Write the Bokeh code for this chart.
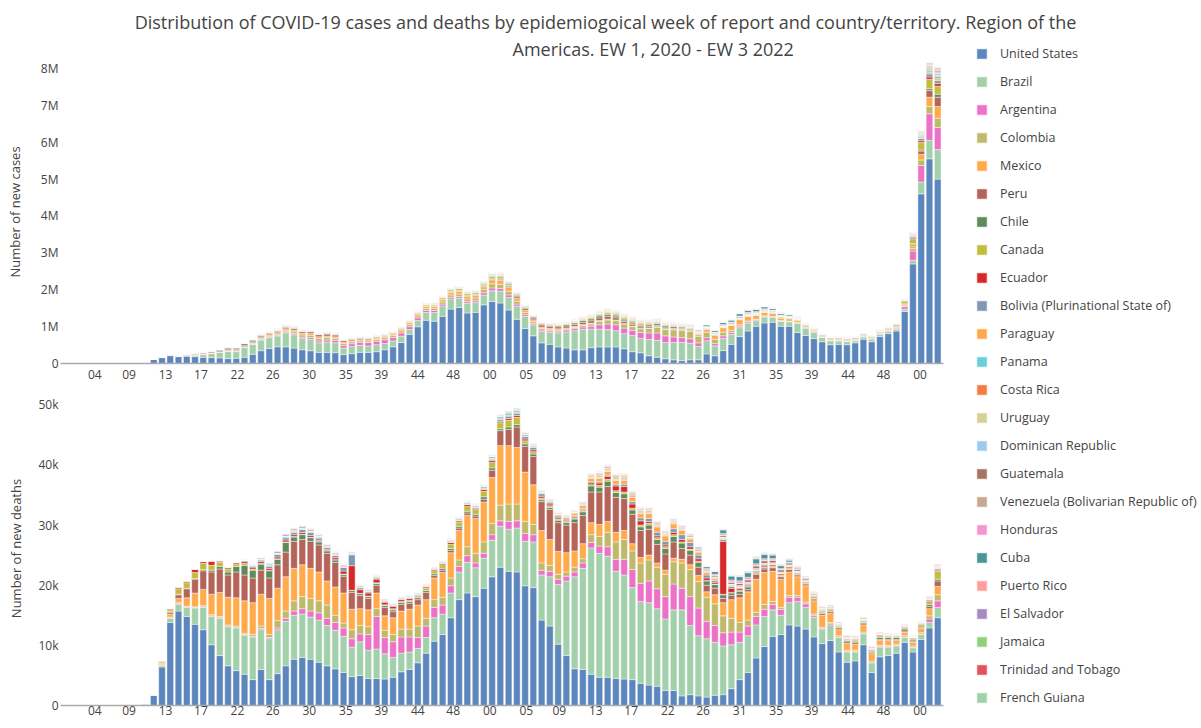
import datetime as dt
from bokeh.plotting import figure
from bokeh.models import ColumnDataSource, FixedTicker, Legend, LegendItem, Range1d, Title, Label
from bokeh.layouts import column, row
from bokeh.embed import file_html
from bokeh.resources import INLINE

N = 107  # weekly bars, week starting 2020-01-05 ... 2022-01-16
FIRST_WEEK = dt.date(2020, 1, 5)

COUNTRIES = ["United States", "Brazil", "Argentina", "Colombia", "Mexico", "Peru", "Chile", "Canada",
             "Ecuador", "Bolivia (Plurinational State of)", "Paraguay", "Panama", "Costa Rica", "Uruguay",
             "Dominican Republic", "Guatemala", "Venezuela (Bolivarian Republic of)", "Honduras", "Cuba",
             "Puerto Rico", "El Salvador", "Jamaica", "Trinidad and Tobago", "French Guiana"]
COLORS = ["#5b87bd", "#a2d0aa", "#ec72c8", "#bfba6b", "#ffab4c", "#b5645a", "#5e8a5c", "#c2bd3c",
          "#d62a2a", "#8198b4", "#ffa94d", "#6bcfd8", "#f47c45", "#d9cf9b", "#9ecbee", "#a37566",
          "#c4a995", "#f596cc", "#489695", "#ff9e9b", "#a48cbd", "#8fd17b", "#e2525a", "#a2d0aa"]

# ---------------- new cases (thousands) ----------------
US_C = [0]*9 + [2,35,110,160,213,187,196,187,169,160, 151,133,142,169,249,347,409,453,453,418, 373,347,302,302,293,240,267,302,302,320, 373,453,569,791,996,1173,1147,1280,1476,1520, 1369,1387,1591,1680] + [1640,1450,1200,950,750,560,520,450,420,370, 370,430,450,450,450,400,320,290,210,170, 130,100,80,100,100,260,210,350,520,730, 880,1010,1100,1120,1010,1010,840,760,680,590, 510,520,510,560,660,590,730,810,880,1410, 2700,4600,5550,5000]
BR_C = [0]*9 + [0,1,3,3,8,15,25,45,80,110, 150,200,180,260,270,290,290,295,380,360, 300,310,260,280,270,180,195,190,175,190, 170,160,170,130,170,210,235,280,275,250, 265,265,265,290] + [320,340,356,330,300,311,330,382,435,520, 560,500,480,470,440,410,440,390,440,460, 440,470,490,450,360,360,270,330,270,240, 220,150,160,130,130,120,250,200,170,120, 105,90,80,55,60,70,60,55,45,60, 100,320,500,800]
AR_C = [0]*9 + [0,0,0,1, 1,1,1,1,1,2,3,4,5,7, 10,15,18,20,25,35,40,45,50,55, 65,70,75,80,90,95,100,95,90,80, 70,60,55,50,45,45,45,50,65,80] + [75,70,55,45,40,40,35,45,50,55, 60,80,120,150,160,150,140,160,180,200, 180,150,130,120,100,80,60,70,50,40, 30,25,20,15,12,10,8,8,8,8, 8,10,10,10,10,12,15,20,30,70, 250,450,720,600]
CO_C = [0]*9 + [0,0,0,0.5, 1,1,1,2,2,3,4,5,6,8, 12,18,22,28,40,50,60,65,70,65, 60,55,50,45,45,50,55,55,55,55, 55,55,60,60,65,70,70,75,90,110] + [110,100,80,60,45,35,30,30,30,32, 40,60,90,110,110,110,100,100,120,150, 170,190,200,200,180,150,120,100,60,40, 25,15,12,12,12,12,12,12,12,12, 14,14,15,15,15,14,13,14,15,20, 70,150,200,250]
MX_C = [0]*9 + [0,0,0,1, 1,2,3,4,6,8,12,15,18,20, 25,30,35,40,45,45,45,45,45,40, 35,30,30,30,32,35,38,40,45,50, 50,50,55,60,70,75,80,75,70,110] + [110,100,80,60,50,45,40,35,30,30, 28,25,25,25,22,18,16,15,15,20, 25,30,35,40,50,70,100,120,130,140, 130,110,95,80,70,60,50,40,35,30, 28,25,25,22,20,18,18,20,22,30, 70,150,250,320]
PE_C = [0]*9 + [0,0,0,1, 3,8,12,20,25,28,30,35,35,30, 25,25,25,30,35,40,45,50,55,55, 50,45,40,35,30,25,20,15,12,10, 10,10,9,9,9,10,11,12,14,18] + [25,30,40,45,50,55,55,55,55,55, 60,65,70,70,60,50,45,40,35,30, 25,20,15,12,10,8,8,8,7,7, 7,7,7,7,7,7,7,7,7,7, 8,8,8,8,9,10,10,12,15,20, 40,90,180,250]
CL_C = [0]*9 + [0,0,0,2, 3,3,4,4,8,15,25,30,35,45, 45,40,30,25,20,18,15,14,13,13, 12,12,12,12,11,10,10,10,10,9, 9,9,9,10,11,12,13,14,17,22] + [28,28,27,25,23,22,24,28,32,38, 45,50,52,50,45,40,38,40,45,48, 48,45,40,30,22,15,12,8,6,5, 4,4,4,4,5,6,8,10,12,14, 16,18,20,20,18,15,12,10,9,10, 20,30,50,80]
CA_C = [0]*9 + [0,0.3,1.5,4, 8,9,10,11,10,9,8,7,6,5, 4,3,2.5,2,2,2.5,3,3,3,3.5, 4,5,7,9,12,15,17,18,20,25, 28,32,35,40,45,48,50,45,45,55] + [50,45,35,25,22,20,20,20,20,22, 25,30,40,50,55,58,55,45,35,25, 15,8,5,3,2.5,2.5,3,4,7,12, 18,22,26,28,28,27,25,20,18,16, 15,15,16,16,17,18,20,25,40,70, 130,200,260,220]
EC_C = [0]*9 + [0,0,0.2,1.5, 2,4,5,10,8,6,5,4,5,6, 7,8,6,6,6,6,7,7,7,8, 8,7,6,5,5,5,6,6,6,6, 6,6,6,6,6,7,7,7,8,8] + [9,9,8,8,8,8,8,8,8,8, 9,10,12,12,12,11,10,10,9,9, 9,10,10,9,8,7,6,5,4,3, 3,3,3,3,3,3,3,3,3,3, 3,3,3,3,3,3,3,4,6,10, 30,50,60,70]
BO_C = [0]*9 + [0,0,0,0, 0.1,0.2,0.3,0.5,0.8,1,1.5,2,3,4, 5,7,9,11,13,15,14,12,10,8, 6,4,3,2,2,1.5,1.5,1.5,1.5,1.5, 1.5,1.5,1.5,1.8,2,3,5,8,12,18] + [22,18,14,10,8,6,5,4,4,4, 5,6,8,10,12,14,15,16,18,18, 17,15,12,10,8,6,5,4,3,3, 2,2,2,2,2,2,2,2,2,2, 2,2,2,3,3,4,5,6,10,20, 40,60,80,80]
PY_C = [0]*13 + [0,0,0,0,0,0.1,0.1,0.1,0.2,0.3, 0.4,0.5,0.8,1,1.5,2,3,4,5,5, 5,5,5,5,5,5,4,4,4,4, 4,4,4,4,4,5,6,7,8,8] + [8,7,6,6,6,7,9,12,15,18, 18,17,16,15,15,16,18,20,20,18, 16,14,12,10,8,6,5,3,2,1, 1,1,1,1,0.5,0.5,0.5,0.5,0.5,0.5, 0.5,0.5,0.5,0.5,0.5,0.5,0.5,0.5,1,2, 8,20,35,50]
PA_C = [0]*9 + [0,0,0.2,0.8, 1.5,1,1,1,1,1.5,2,3,4,5, 6,7,7,7,7,6,6,5,5,4, 4,4,4,5,5,6,7,8,9,12, 15,18,20,20,20,20,20,20,22,25] + [25,20,15,10,7,5,4,3,3,3, 3,3,3,3,3,3,3,4,4,5, 5,5,6,6,7,7,6,5,4,3, 2,2,2,2,1.5,1.5,1.5,1.5,1.5,1.5, 1.5,1.5,1.5,1.5,1.5,1.5,1.5,1.5,2,4, 20,40,50,60]
CR_C = [0]*9 + [0,0,0.1,0.2, 0.2,0.2,0.1,0.1,0.1,0.1,0.1,0.1,0.2,0.3, 0.5,1,1.5,2.5,3.5,4,4.5,5,5.5,6, 6.5,7,7,7,7,7,7,6,6,6, 6,6,6,6,6,6,5,5,5,6] + [6,5,4,3,2,2,2,2,2,2.5, 3,5,7,10,13,16,17,15,12,10, 9,9,8,7,7,8,10,12,14,15, 15,14,12,10,8,6,5,4,3,3, 3,3,2.5,2.5,2.5,2,2,2,2,3, 8,15,25,30]
UY_C = [0]*12 + [0.1, 0.1,0.1,0.05,0.05,0.02,0.02,0.02,0.02,0.02,0.02, 0.02,0.02,0.02,0.02,0.02,0.02,0.02,0.03,0.05,0.05, 0.05,0.05,0.05,0.05,0.1,0.1,0.2,0.3,0.5,0.8, 1,1.5,2,3,4,4,4,5,5,6] + [6,5,5,4,4,4,5,8,12,15, 20,22,24,22,20,18,18,18,17,16, 15,12,8,5,3,2,1.5,1,1,1, 0.5,0.5,0.5,0.5,0.5,0.7,1,1.2,1.5,1.5, 1.5,2,2,2,2,2.5,3,3,3,4, 15,30,60,55]
DO_C = [0]*9 + [0,0,0.1,0.5, 1,1.5,1.5,1.5,2,2,2.5,2.5,3,4, 5,6,7,7,7,8,7,6,5,4, 3,2.5,2.5,2.5,2.5,3,3,3,3.5,4, 5,6,7,8,8,8,9,10,10,10] + [9,8,6,5,4,4,3.5,3.5,3.5,4, 4.5,5,5,5,5,4,4,4,5,6, 7,8,9,8,7,5,4,3,3,3, 2,2,2,1.5,1.5,1.5,1,1,1,1, 1,1,1,1,1,1,1.5,2,3,5, 15,25,35,40]
GT_C = [0]*13 + [0.02,0.05,0.1,0.1,0.2,0.3,0.5,1,1.5,2, 3,4,5,6,7,7,7,6,5,5, 4,4,4,4,3.5,3.5,3.5,3.5,3.5,3.5, 3.5,3.5,3.5,4,4,4.5,4.5,4,4,5] + [5,6,6,6,5,5,5,5,5,5, 6,7,8,8,8,8,7,7,7,7, 7,7,8,8,9,11,14,18,22,25, 25,22,20,18,15,12,10,7,5,3, 2,2,2,2,2,2,2,2,3,4, 5,10,20,30]
VE_C = [0]*12 + [0.05, 0.05,0.05,0.05,0.05,0.05,0.05,0.1,0.1,0.2,0.5, 1,1.5,2,3,4,5,6,7,7,7, 6,6,5,5,5,4,3,3,2.5,2.5, 2.5,2.5,2.5,2.5,2.5,2.5,3,3,3,3] + [3,3,3,3,3,3,3,4,4,4, 6,7,8,8,7,7,7,7,7,7, 7,7,7,7,7,7,7,7,7,7, 7,7,7,7,7,7,6,6,5,5, 4,4,4,3,3,3,3,2,2,2, 2,3,4,5]
HN_C = [0]*12 + [0.1, 0.1,0.1,0.1,0.2,0.3,0.5,0.8,1,1.5,2, 3,3.5,4,4.5,5,5,5,5,4,4, 3.5,3.5,3.5,3.5,3.5,3.5,3.5,3,3,3, 3,3,3,3,3,3,3,3,3,3] + [3,4,5,5,5,5,4,4,4,4, 4,4,5,5,4,4,4,4,4,4, 5,5,5,6,7,8,10,12,14,15, 15,12,10,8,5,3,2,1,0.5,0.5, 0.5,0.5,0.5,0.5,0.5,0.5,0.5,0.5,0.5,1, 3,8,15,20]
CU_C = [0]*12 + [0.05, 0.2,0.2,0.2,0.1,0.05,0.05,0.02,0.02,0.02,0.02, 0.02,0.02,0.02,0.02,0.05,0.1,0.2,0.3,0.3,0.2, 0.2,0.2,0.2,0.2,0.2,0.2,0.2,0.2,0.2,0.2, 0.2,0.3,0.3,0.4,0.5,0.7,0.8,1,1.5,2] + [4,5,5,5,5,5,5,5,5,6, 6,7,7,7,8,8,8,8,8,9, 10,12,15,20,30,40,45,50,55,60, 60,60,55,50,45,35,25,15,10,5, 3,2,1.5,1,1,1,1,1,1,1.5, 4,10,15,20]
PR_C = [0]*9 + [0,0,0.1,0.3, 0.3,0.3,0.2,0.2,0.2,0.2,0.2,0.2,0.2,0.3, 0.5,1,1.5,2,2,2,2,2,1.5,1.5, 1.5,1.5,1.5,1.5,1.5,2,2.5,3,3.5,4, 4.5,5,5,5,5,5,4.5,4,4,4] + [4,4,3,2.5,2,2,2,2,2,2.5, 3,4,4,4,3.5,3,2.5,2,1.5,1, 0.5,0.5,0.5,0.5,0.5,1,2,3,4,4, 4,4,3,3,2,2,1.5,1,1,1, 1,1,1,1,1,1,1,1,1.5,5, 20,35,40,35]
SV_C = [0]*13 + [0.02,0.02,0.05,0.1,0.2,0.3,0.5,1,1.5,2, 2,2,2,2,2,2,2,2,1.5,1.5, 1,1,1,1,1,1,1,1,1,1, 1,1,1,1,1,1,1,1.5,1.5,1.5] + [1.5]*20 + [1.5,1.5,1.5,1.5,1.5,2,2.5,3,3.5,4, 4,4,3.5,3,2.5,2,1.5,1,0.5,0.5] + [0.5]*10 + [1,3,6,8]
JM_C = [0]*13 + [0.02]*14 + [0.05,0.05,0.1,0.2,0.5,1, 1,1,0.8,0.6] + [0.5]*16 + [0.5,0.5,0.5,0.5,0.6,0.8,1,1.5,2.5,3, 3,2.5,2,1.5,1,0.7,0.5,0.5,0.5,0.5, 0.5,0.5,0.5,0.5,0.5,0.5,1,2,3,4, 4.5,4.5,4,3,2,1.5,1,0.8,0.5,0.5, 0.5,0.5,0.5,0.5,0.5,0.5,0.5,0.5,0.5,1, 3,5,6,5]
TT_C = [0]*13 + [0.02,0.02,0.01] + [0]*14 + [0.05,0.3,0.8, 1,1,0.8,0.5,0.3,0.3,0.2,0.2] + [0.1]*12 + [0.1]*10 + [0.3,0.6,1,1.5,2,2.5,2.5,2,2,1.5, 1.5,1.2,1,1,1,1,1.5,1.5,2,2.5, 2.5,2.5,2.5,2.5,3,3,3,3.5,4,5, 5.5,6,6,5.5,5,4.5,4,3.5,3,3, 3,4,5,6]
GF_C = [0]*13 + [0.02,0.01,0.01,0,0,0,0,0.02,0.05,0.2, 0.5,0.8,1,0.8,0.6,0.4,0.3] + [0.2]*23 + [0.3,0.3,0.3,0.3,0.4,0.5,0.6,0.6,0.6,0.7, 0.8,1,1.2,1.2,1,0.8,0.6,0.5,0.5,0.5, 0.5,0.5,0.6,0.8,1,1.2,1.5,1.5,1.5,1.2, 1,0.8,0.6,0.5] + [0.3]*15 + [0.4,1,2,3,3]

# ---------------- new deaths (thousands) ----------------
US_D = [0]*10 + [0.3,1.7,6.4,13.8,15.7,14.8,13.5,12.6,10.1,8.3, 6.6,5.8,5.2,4.3,6.0,4.3,5.3,6.6,7.7,8.0, 7.7,7.2,6.6,6.1,5.5,4.8,5.0,4.5,4.5,4.4, 4.7,5.6,6.0,7.1,8.7,10.7,11.8,14.6,17.6,18.7, 18.1,19.5,21.4] + [23.0,22.3,22.2,19.9,19.6,14.2,13.2,10.2,8.3,6.1, 6.0,5.2,4.7,4.7,4.5,4.4,4.3,3.7,3.4,3.2, 2.5,2.5,1.6,1.8,1.6,1.4,1.7,1.8,2.8,4.3, 5.5,7.9,9.8,11.5,11.8,13.4,13.2,12.7,11.4,10.3, 10.8,8.9,7.2,7.4,10.1,5.5,8.1,8.3,8.7,10.5, 8.9,11.0,12.9,14.6]
BR_D = [0]*10 + [0,0,0.3,0.7,1.1,1.5,2.7,3.7,4.7,6.2, 6.5,7.1,6.5,7.1,6.6,6.8,7.3,7.4,7.3,7.2, 7.0,7.0,6.7,6.4,6.0,4.9,5.6,4.7,4.9,4.2, 3.3,3.1,2.9,2.4,2.6,3.9,3.4,4.1,4.6,5.1, 4.8,5.0,6.1] + [6.8,7.0,7.3,7.4,7.6,7.5,8.2,9.9,12.4,15.3, 16.8,21.0,20.6,20.1,17.8,17.3,15.3,13.6,13.7,12.9, 11.9,13.4,14.3,11.5,10.0,9.7,8.8,8.1,7.3,6.2, 6.1,5.5,5.0,4.4,3.2,3.7,4.1,3.6,3.3,2.3, 2.6,2.4,1.7,1.5,1.8,1.6,1.6,1.4,1.2,0.8, 0.7,0.8,0.9,1.7]
AR_D = [0]*10 + [0,0,0,0.1,0.2,0.1,0.1,0.1,0.1,0.1, 0.1,0.1,0.1,0.1,0.2,0.2,0.3,0.5,0.7,0.9, 1.0,1.2,1.2,1.3,1.4,1.4,1.3,2.6,5.4,2.7, 2.6,2.7,2.5,1.8,1.9,1.7,1.5,1.2,0.9,1.1, 0.8,0.8,0.9] + [0.9,1.3,1.2,1.3,1.2,0.8,0.9,0.9,0.8,0.8, 0.9,0.9,1.2,1.6,2.0,2.6,3.0,3.0,3.6,3.3, 3.7,4.3,3.6,4.8,4.6,2.9,2.8,2.2,2.1,1.7, 1.6,1.4,1.2,0.9,1.0,0.9,0.7,0.6,0.3,0.2, 0.2,0.1,0.1,0.1,0.1,0.1,0.1,0.1,0.1,0.1, 0.1,0.1,0.6,1.1]
CO_D = [0]*10 + [0,0,0,0.1,0.1,0.1,0.1,0.2,0.2,0.2, 0.2,0.2,0.2,0.3,0.4,0.5,1.2,1.2,1.7,2.0, 2.1,2.0,2.2,1.2,0.8,1.5,1.4,1.3,1.3,1.2, 1.2,1.3,1.3,1.9,1.3,1.3,1.3,1.3,1.1,1.5, 1.6,1.9,1.9] + [2.6,2.9,2.8,2.0,1.7,1.2,1.0,0.8,0.7,0.8, 0.7,1.3,1.6,2.4,2.9,3.3,3.1,3.4,3.5,3.6, 3.7,3.7,4.2,4.5,4.4,4.0,3.6,2.8,2.3,1.6, 1.0,0.7,0.8,0.5,0.3,0.3,0.3,0.3,0.2,0.2, 0.2,0.2,0.2,0.2,0.2,0.2,0.2,0.2,0.2,0.2, 0.2,0.2,0.5,1.0]
MX_D = [0]*10 + [0,0,0.2,0.5,0.7,1.4,2.3,2.7,3.4,4.0, 4.6,4.7,5.4,5.3,5.3,6.0,5.4,5.7,5.4,5.3, 5.0,4.8,4.0,4.7,5.0,3.4,2.8,2.8,2.6,2.4, 2.8,3.0,3.3,3.5,3.1,3.6,4.1,4.2,4.9,5.2, 5.8,6.6,7.6] + [9.9,9.7,9.4,8.2,6.6,5.4,4.3,3.8,3.2,2.7, 2.5,2.0,2.0,1.8,1.6,1.5,1.2,0.9,0.8,0.7, 0.7,0.6,0.6,0.8,1.0,0.9,1.5,2.2,3.1,4.1, 4.7,5.5,5.3,5.0,4.7,3.9,3.1,2.7,2.2,2.0, 1.5,1.0,1.1,1.0,1.2,1.2,0.8,0.8,0.6,0.6, 0.6,0.7,1.2,1.4]
PE_D = [0]*10 + [0,0,0.1,0.3,0.6,1.5,2.3,3.1,3.7,3.9, 3.7,4.3,4.3,4.1,4.0,3.4,3.9,4.1,4.5,4.2, 4.5,4.5,4.6,4.1,2.8,2.8,2.2,1.9,1.3,1.4, 1.0,1.1,1.0,0.9,1.2,0.4,0.4,0.4,0.4,0.4, 0.4,0.5,1.2] + [2.5,2.7,3.4,4.3,4.7,4.8,5.0,4.8,4.6,4.7, 4.7,5.1,5.4,5.8,5.8,5.3,4.9,4.5,4.3,3.1, 2.7,2.7,1.8,1.6,1.4,1.1,1.1,0.7,0.7,0.6, 0.4,0.8,0.6,0.6,0.4,0.4,0.3,0.3,0.3,0.3, 0.3,0.3,0.3,0.3,0.2,0.2,0.2,0.2,0.2,0.2, 0.2,0.2,0.4,0.9]
CL_D = [0]*10 + [0,0,0,0.1,0.1,0.1,0.1,0.2,0.3,0.4, 0.5,0.9,1.6,1.3,1.0,1.2,0.9,1.6,0.7,0.8, 0.6,0.5,0.4,0.4,0.3,0.3,0.3,0.3,0.3,0.3] + [0.3]*10 + [0.3,0.4,0.4] + [0.3,0.4,0.4,0.4,0.4,0.3,0.3,0.4,0.4,0.6, 0.6,1.0,0.8,0.9,0.8,0.8,0.7,0.6,0.7,0.8, 0.9,0.9,0.9,0.8,0.8,0.7,0.6,0.6,0.4,0.5, 0.4,0.2,0.2,0.1,0.1,0.1,0.1,0.1,0.1,0.1, 0.1,0.1,0.2,0.2,0.2,0.2,0.3,0.3,0.3,0.3, 0.2,0.2,0.3,0.3]
CA_D = [0]*10 + [0,0.1,0.2,0.3,0.9,0.9,1.0,1.0,0.8,0.7, 0.5,0.4,0.3,0.2,0.1,0.1,0.1,0.1,0.1,0.05, 0.05,0.05,0.05,0.05,0.05,0.05,0.05,0.1,0.1,0.15, 0.2,0.2,0.2,0.2,0.4,0.5,0.6,0.7,0.7,0.8, 0.8,0.9,0.9] + [1.0,1.1,1.2,0.5,0.4,0.3,0.3,0.2,0.2,0.2, 0.2,0.2,0.3,0.3,0.3,0.3,0.3,0.3,0.3,0.3, 0.3,0.3,0.2,0.2,0.2,0.1,0.1,0.1,0.1,0.1, 0.1,0.1,0.1,0.2,0.2,0.2,0.2,0.2,0.3,0.3, 0.3,0.2,0.2,0.2,0.2,0.2,0.3,0.2,0.2,0.2, 0.2,0.3,0.5,1.3]
EC_D = [0]*10 + [0,0,0.2,0.2,0.3,0.3,0.6,0.3,0.7,0.2, 0.2,0.2,0.3,0.3,0.3,0.3,0.3,0.3,0.3,0.3, 0.3,0.2,0.2,0.3,0.5,4.1,0.6,0.5,0.6,0.4, 0.4,0.3,0.3,0.2,0.2,0.2,0.2,0.3,0.2,0.3, 0.2,0.3,0.3] + [0.2,0.3,0.3,0.3,0.3,0.3,0.3,0.2,0.2,0.2, 0.2,0.3,0.4,0.5,0.8,0.9,0.7,0.7,0.3,0.3, 0.3,0.4,0.4,0.4,0.4,0.4,0.3,8.8,0.7,0.3, 0.2,0.2,0.2,0.2,0.2,0.2,0.1,0.1,0.1,0.1] + [0.1]*10 + [0.1,0.1,0.2,0.2]
BO_D = [0]*10 + [0,0,0,0,0,0,0,0.05,0.05,0.1, 0.1,0.1,0.2,0.2,0.3,0.4,0.4,0.4,0.4,0.5, 0.5,0.4,0.3,0.4,0.6,1.8,0.3,0.2,0.2,0.2, 0.1,0.1,0.1,0.1,0.1,0.05,0.05,0.05,0.05,0.05, 0.1,0.1,0.2] + [0.3,0.4,0.4,0.4,0.4,0.4,0.3,0.3,0.2,0.2, 0.2,0.2,0.2,0.2,0.3,0.4,0.4,0.5,0.5,0.6, 0.6,0.6,0.8,0.7,0.6,0.5,0.3,0.3,0.3,0.2, 0.2,0.2,0.2,0.1,0.1,0.1,0.1,0.1,0.1,0.1] + [0.1]*13 + [0.2]
PY_D = [0]*30 + [0.01,0.02,0.03,0.04,0.05,0.06,0.07,0.07,0.08,0.08, 0.08,0.08,0.07,0.07,0.07,0.07,0.08,0.08,0.1,0.1, 0.12,0.15,0.15] + [0.15,0.15,0.15,0.12,0.12,0.12,0.15,0.2,0.3,0.4, 0.5,0.6,0.6,0.6,0.6,0.6,0.7,0.7,0.8,0.9, 0.9,0.8,0.7,0.6,0.5,0.4,0.3,0.2,0.15,0.1, 0.05,0.03,0.03,0.03] + [0.02]*17 + [0.03,0.05,0.08]
PA_D = [0]*10 + [0.01,0.02,0.03,0.04,0.03,0.02,0.02,0.02,0.03,0.03, 0.04,0.05,0.07,0.1,0.12,0.15,0.17,0.18,0.17,0.15, 0.13,0.12,0.1,0.08,0.07,0.06,0.05,0.05,0.05,0.05, 0.05,0.05,0.06,0.07,0.08,0.1,0.12,0.14,0.17,0.2, 0.22,0.25,0.3] + [0.35,0.35,0.3,0.25,0.18,0.12,0.08,0.06,0.05,0.04] + [0.04]*10 + [0.05,0.05,0.05,0.06,0.06,0.06,0.05,0.05,0.04,0.03, 0.03,0.03] + [0.02]*18 + [0.02,0.03,0.05,0.08]
CR_D = [0]*23 + [0.01,0.01,0.02,0.03,0.05,0.08,0.1, 0.12,0.13,0.14,0.15,0.16,0.16,0.15,0.14,0.12,0.1, 0.1,0.1,0.1,0.1,0.1,0.09,0.09,0.09,0.08,0.08, 0.08,0.08,0.08] + [0.08,0.07,0.06,0.05,0.05,0.04,0.03,0.03,0.03,0.03, 0.04,0.05,0.08,0.12,0.15,0.18,0.2,0.2,0.18,0.15, 0.13,0.12,0.12,0.1,0.08,0.08,0.1,0.12,0.15,0.17, 0.18,0.18,0.17,0.16,0.14,0.12,0.1,0.08,0.07,0.06, 0.05,0.05,0.04,0.04] + [0.03]*6 + [0.03,0.04,0.05,0.06]
UY_D = [0]*50 + [0.01,0.01,0.03] + [0.04,0.05,0.04,0.04,0.03,0.03,0.03,0.04,0.06,0.1, 0.2,0.3,0.4,0.42,0.42,0.4,0.38,0.35,0.35,0.3, 0.25,0.2,0.15,0.1,0.06,0.04,0.03,0.02,0.02] + [0.01]*15 + [0.02]*6 + [0.03,0.05,0.08,0.1]
DO_D = [0]*10 + [0.01,0.03,0.05,0.06,0.05,0.04,0.03,0.03,0.03,0.03, 0.03,0.03,0.03,0.04,0.05,0.06,0.07,0.07,0.07,0.06, 0.05,0.05,0.04,0.03,0.03,0.03] + [0.02]*13 + [0.03]*4 + [0.04,0.04,0.04,0.04,0.03,0.03,0.03,0.02,0.02,0.02, 0.02,0.03,0.03,0.03,0.03,0.03,0.02,0.02,0.03,0.04, 0.04,0.05,0.05,0.05,0.04,0.03,0.02,0.02,0.02,0.02] + [0.01]*21 + [0.02,0.02,0.03]
GT_D = [0]*17 + [0.01,0.01,0.02, 0.03,0.05,0.08,0.12,0.15,0.18,0.2,0.22,0.22,0.2, 0.18,0.15,0.13,0.12,0.12,0.1,0.1,0.1,0.09,0.08, 0.07,0.07,0.07,0.07,0.07,0.06,0.06,0.07,0.07,0.07, 0.07,0.08,0.08] + [0.1,0.12,0.12,0.12,0.12,0.1,0.1,0.1,0.1,0.1, 0.1,0.12,0.15,0.15,0.15,0.15,0.14,0.12,0.12,0.12, 0.12,0.12,0.13,0.15,0.16,0.18,0.22,0.25,0.3,0.35, 0.4,0.42,0.42,0.4,0.35,0.3,0.25,0.2,0.15,0.1, 0.08,0.07,0.06] + [0.05]*7 + [0.05,0.06,0.07,0.08]
VE_D = [0]*23 + [0.01,0.01,0.01,0.02,0.02,0.03,0.04, 0.05,0.06,0.06,0.06,0.06,0.06,0.05,0.05,0.05,0.04, 0.04,0.04] + [0.03]*11 + [0.03]*9 + [0.04,0.06,0.08] + [0.1]*6 + [0.09]*19 + [0.08,0.08,0.07,0.06,0.06,0.05,0.05,0.05,0.04,0.04,0.04,0.04,0.03,0.03,0.03,0.03,0.04]
HN_D = [0]*12 + [0.01]*6 + [0.02,0.02, 0.03,0.04,0.05,0.08,0.1,0.12,0.15,0.15,0.14,0.13, 0.12,0.11,0.1,0.09,0.08,0.07,0.06,0.06,0.06] + [0.05]*13 + [0.06] + [0.07,0.08,0.09,0.1,0.1,0.1,0.1,0.09,0.08,0.08, 0.08,0.08,0.09] + [0.1]*7 + [0.12,0.13,0.14,0.15,0.17,0.2,0.22,0.25,0.3,0.35, 0.35,0.3,0.25,0.2,0.15,0.1,0.08,0.05,0.03] + [0.02]*11 + [0.02,0.03,0.05,0.07]
CU_D = [0]*13 + [0.01]*4 + [0]*36 + [0.01,0.01] + [0.02]*8 + [0.02,0.03,0.03,0.03,0.04,0.05,0.05,0.05,0.05,0.06, 0.07,0.08,0.1,0.12,0.2,0.3,0.45,0.6,0.65,0.7, 0.75,0.8,0.7,0.6,0.45,0.3,0.2,0.12,0.06,0.03, 0.02] + [0.01]*11 + [0.02,0.03]
PR_D = [0]*11 + [0.01]*9 + [0]*5 + [0.01]*5 + [0.02,0.03,0.04,0.05,0.05,0.05,0.04,0.04,0.04,0.05, 0.05,0.05,0.05,0.06,0.07,0.08,0.08,0.08,0.07,0.07, 0.06,0.06,0.06] + [0.06,0.06,0.05,0.04,0.03,0.03] + [0.02]*5 + [0.03,0.04,0.05,0.05,0.04,0.04,0.03,0.02] + [0.01]*7 + [0.02,0.03,0.05,0.06, 0.06,0.06,0.05,0.04,0.03,0.02,0.02,0.02] + [0.01]*12 + [0.03,0.06,0.1,0.15]
SV_D = [0]*20 + [0.01,0.01,0.02,0.03,0.04,0.05,0.06,0.06,0.06,0.05, 0.04,0.04,0.03,0.03,0.03,0.03] + [0.02]*17 + [0.03]*25 + [0.04,0.05,0.06,0.07,0.08, 0.09,0.1,0.1,0.09,0.08,0.07,0.05,0.04,0.03] + [0.02]*11 + [0.01,0.01,0.02,0.02]
JM_D = [0]*30 + [0.01,0.01,0.01,0.02,0.02,0.02,0.02,0.02,0.02] + [0.01]*14 + [0.01]*5 + [0.02,0.02,0.03,0.04,0.05,0.05,0.05,0.04,0.03,0.02,0.02] + [0.01]*10 + [0.02,0.03,0.05,0.08,0.1,0.12,0.12,0.1,0.08,0.06,0.04,0.03,0.02,0.02] + [0.01]*11 + [0.02,0.02,0.03]
TT_D = [0]*40 + [0.01]*13 + [0]*10 + [0.01,0.01,0.02,0.03,0.04,0.05,0.05,0.04,0.03,0.03, 0.03,0.02,0.02,0.02,0.02,0.02,0.02,0.03,0.04,0.05, 0.05,0.06,0.06,0.06,0.07,0.08,0.08,0.09,0.1,0.12, 0.14,0.15,0.16,0.15,0.14,0.12,0.1,0.08,0.07,0.06, 0.05,0.05,0.06,0.07]
GF_D = [0]*22 + [0.01]*12 + [0]*19 + [0]*5 + [0.01]*10 + [0]*10 + [0.01]*10 + [0]*19

CASES = [US_C, BR_C, AR_C, CO_C, MX_C, PE_C, CL_C, CA_C, EC_C, BO_C, PY_C, PA_C, CR_C, UY_C,
         DO_C, GT_C, VE_C, HN_C, CU_C, PR_C, SV_C, JM_C, TT_C, GF_C]
DEATHS = [US_D, BR_D, AR_D, CO_D, MX_D, PE_D, CL_D, CA_D, EC_D, BO_D, PY_D, PA_D, CR_D, UY_D,
          DO_D, GT_D, VE_D, HN_D, CU_D, PR_D, SV_D, JM_D, TT_D, GF_D]

CASE_TICKS = [0, 1000, 2000, 3000, 4000, 5000, 6000, 7000, 8000]
CASE_TICK_LABELS = ["0", "1M", "2M", "3M", "4M", "5M", "6M", "7M", "8M"]
DEATH_TICKS = [0, 10, 20, 30, 40, 50]
DEATH_TICK_LABELS = ["0", "10k", "20k", "30k", "40k", "50k"]

TITLE_1 = "Distribution of COVID-19 cases and deaths by epidemiogoical week of report and country/territory. Region of the"
TITLE_2 = "Americas. EW 1, 2020 - EW 3 2022"


def fit(a):
    a = list(a)
    return (a + [0] * N)[:N]


weeks = list(range(N))
month_starts = [dt.date(2020 + m // 12, m % 12 + 1, 1) for m in range(1, 25)]
tick_pos = [round((d - FIRST_WEEK).days / 7, 4) for d in month_starts]
tick_lab = {p: d.strftime("%U") for p, d in zip(tick_pos, month_starts)}

FONT = "Open Sans"
TXT = "#444444"
TOTAL_W = 1201
FIG_W = 958
LEFT = 60
FRAME_W = 883
TITLE_H = 34
TOP_H = 357
BOT_H = 336


def make_fig(height, ymax, bottom_border, data, yticks, ylabels, ylab, lab_standoff, x_standoff):
    p = figure(width=FIG_W, height=height, x_range=Range1d(-0.3, N - 0.3), y_range=Range1d(0, ymax),
               toolbar_location=None, output_backend="svg",
               min_border_left=LEFT, min_border_right=FIG_W - LEFT - FRAME_W, min_border_top=0,
               min_border_bottom=bottom_border)
    p.outline_line_color = None
    p.grid.visible = False
    p.background_fill_color = "white"
    p.border_fill_color = "white"
    src = ColumnDataSource(dict(x=weeks, **{c: fit(v) for c, v in zip(COUNTRIES, data)}))
    p.vbar_stack(COUNTRIES, x="x", width=0.8, fill_color=COLORS, line_color="white",
                 line_width=0.6, line_alpha=0.7, source=src)
    # y axis
    p.yaxis.ticker = FixedTicker(ticks=yticks)
    p.yaxis.major_label_overrides = {t: l for t, l in zip(yticks, ylabels)}
    p.yaxis.axis_line_color = None
    p.yaxis.major_tick_line_color = None
    p.yaxis.minor_tick_line_color = None
    p.yaxis.major_tick_out = 0
    p.yaxis.major_tick_in = 0
    p.yaxis.minor_tick_out = 0
    p.yaxis.major_label_standoff = 2
    p.yaxis.axis_label = ylab
    p.yaxis.axis_label_standoff = lab_standoff
    p.yaxis.axis_label_text_font_style = "normal"
    p.yaxis.axis_label_text_font = FONT
    p.yaxis.axis_label_text_font_size = "13px"
    p.yaxis.axis_label_text_color = TXT
    # x axis
    p.xaxis.ticker = FixedTicker(ticks=tick_pos)
    p.xaxis.major_label_overrides = tick_lab
    p.xaxis.axis_line_color = "#aaaaaa"
    p.xaxis.axis_line_width = 1.5
    p.xaxis.major_tick_line_color = None
    p.xaxis.minor_tick_line_color = None
    p.xaxis.major_tick_out = 0
    p.xaxis.major_tick_in = 0
    p.xaxis.minor_tick_out = 0
    p.xaxis.major_label_standoff = x_standoff
    for ax in (p.xaxis, p.yaxis):
        ax.major_label_text_font = FONT
        ax.major_label_text_font_size = "12px"
        ax.major_label_text_color = TXT
    return p


# title line 1 (spans over the legend column)
tf = figure(width=TOTAL_W, height=TITLE_H, x_range=(0, 1), y_range=(0, 1), toolbar_location=None,
            output_backend="svg", x_axis_location=None, y_axis_location=None, min_border=0)
tf.outline_line_color = None
tf.grid.visible = False
tf.add_layout(Label(x=605, y=TITLE_H - 21, x_units="screen", y_units="screen", text=TITLE_1,
                    text_align="center", text_baseline="middle", text_font=FONT,
                    text_font_size="18px", text_color=TXT))

top = make_fig(TOP_H, 8216, 28, CASES, CASE_TICKS, CASE_TICK_LABELS, "Number of new cases", 14, 6)
bot = make_fig(BOT_H, 52.2, 22, DEATHS, DEATH_TICKS, DEATH_TICK_LABELS, "Number of new deaths", 10, 0)

# title line 2 sits above the cases chart
top.add_layout(Title(text=TITLE_2, align="left", offset=452, standoff=0, text_font=FONT,
                     text_font_size="18px", text_font_style="normal", text_color=TXT), "above")

# legend column
LEG_H = TOP_H + BOT_H
lf = figure(width=TOTAL_W - FIG_W, height=LEG_H, x_range=(0, 1), y_range=(0, 1), toolbar_location=None,
            output_backend="svg", x_axis_location=None, y_axis_location=None, min_border=0)
lf.outline_line_color = None
lf.grid.visible = False
items = []
for c, col in zip(COUNTRIES, COLORS):
    r = lf.vbar(x=[5], top=[1], width=0.5, fill_color=col, line_color="white", line_width=1, line_alpha=0.7)
    items.append(LegendItem(label=c, renderers=[r]))
leg = Legend(items=items, location=(17, LEG_H - 9 - 664), glyph_width=13, glyph_height=13,
             label_height=20, spacing=8, label_standoff=12, padding=0, margin=0,
             border_line_color=None, background_fill_alpha=0, label_text_font=FONT,
             label_text_font_size="12.5px", label_text_color=TXT, label_text_baseline="middle")
lf.add_layout(leg)

layout = column(tf, row(column(top, bot), lf))
open("out.html", "w").write(file_html(layout, INLINE))
